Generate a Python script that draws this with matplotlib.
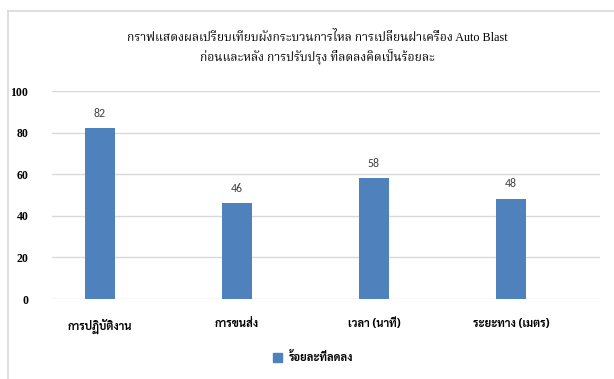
import matplotlib
matplotlib.use('Agg')
import matplotlib.pyplot as plt
from matplotlib.patches import Patch

categories = ['การปฏิบัติงาน', 'การขนส่ง', 'เวลา (นาที)', 'ระยะทาง (เมตร)']
reduced_pct = [82, 46, 58, 48]
y_ticks = [0, 20, 40, 60, 80, 100]
series_name = 'ร้อยละที่ลดลง'
title = ('กราฟแสดงผลเปรียบเทียบผังกระบวนการไหล การเปลี่ยนฝาเครื่อง Auto Blast\n'
         'ก่อนและหลัง การปรับปรุง ที่ลดลงคิดเป็นร้อยละ')

bar_color = '#4F81BD'
grid_color = '#D9D9D9'
thai_sans = ['Sarabun', 'Noto Sans Thai', 'DejaVu Sans']
thai_serif = ['Liberation Serif', 'Noto Serif Thai']

fig = plt.figure(figsize=(6.14, 3.79), dpi=100)

# light frame around the chart area
fig.add_artist(plt.Line2D([8 / 614, 1.0], [1 - 10.5 / 379] * 2, color='#D9D9D9', lw=1.2))
fig.add_artist(plt.Line2D([8 / 614] * 2, [0.0, 1 - 10.5 / 379], color='#D9D9D9', lw=1.2))

ax = fig.add_axes([52 / 614, 80 / 379, 548 / 614, 208 / 379])
x = list(range(len(categories)))
ax.bar(x, reduced_pct, width=0.22, color=bar_color, zorder=3)
for xi, v in zip(x, reduced_pct):
    ax.annotate(str(v), (xi, v), xytext=(0, 7), textcoords='offset points',
                ha='center', va='bottom', fontsize=8.5,
                family=['Carlito', 'DejaVu Sans'], color='#404040')

ax.set_xlim(-0.35, 3.65)
ax.set_ylim(0, 100)
ax.grid(axis='y', color=grid_color, lw=1, zorder=0)
for s in ax.spines.values():
    s.set_visible(False)
ax.tick_params(length=0)
ax.tick_params(axis='y', pad=17)
ax.tick_params(axis='x', pad=14)
ax.set_yticks(y_ticks, labels=[str(t) for t in y_ticks],
              family='Liberation Serif', fontweight='bold', fontsize=8.5)
ax.set_xticks(x, labels=categories, family=thai_sans,
              fontweight='bold', fontsize=8)

fig.text(0.517, 0.918, title, ha='center', va='top', fontsize=8.7,
         family=thai_serif, linespacing=1.45)

fig.legend(handles=[Patch(color=bar_color, label=series_name)],
           loc='center', bbox_to_anchor=(0.51, 0.055), frameon=False,
           handlelength=0.8, handleheight=0.8, handletextpad=0.6,
           prop={'family': thai_sans, 'weight': 'bold', 'size': 8})

fig.savefig('out.png', dpi=100)
